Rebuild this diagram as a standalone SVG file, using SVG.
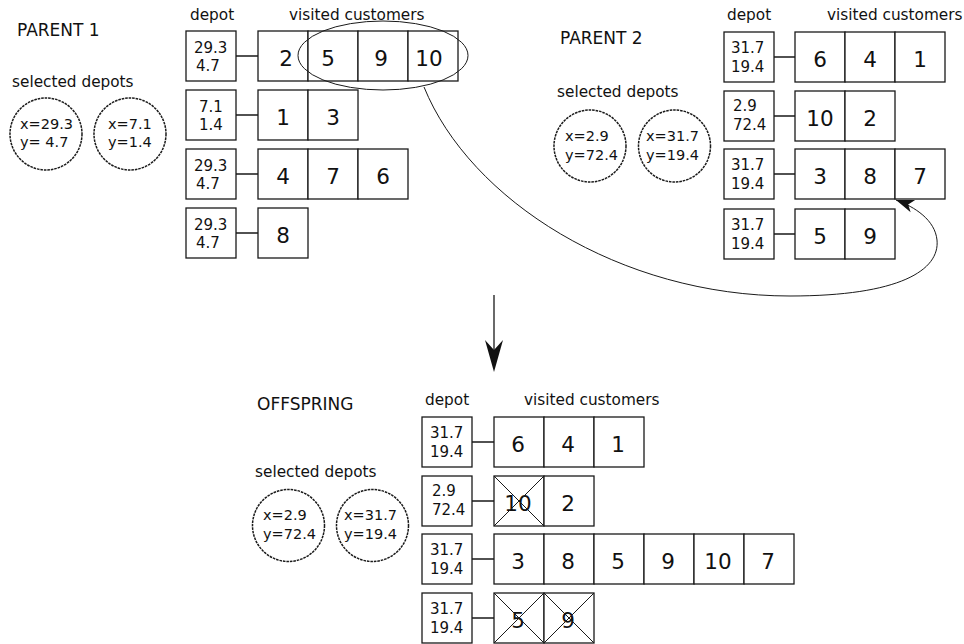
<svg xmlns="http://www.w3.org/2000/svg" width="964" height="644" viewBox="0 0 964 644">
<style>
text{font-family:"DejaVu Sans","Liberation Sans",sans-serif;fill:#111}
.box{fill:#fff;stroke:#1a1a1a;stroke-width:1.3}
.ln{stroke:#1a1a1a;stroke-width:1.3;fill:none}
.thin{stroke:#1a1a1a;stroke-width:1;fill:none}
.dep{font-size:15px}
.num{font-size:21.5px;text-anchor:middle}
.lab{font-size:15.3px}
.ttl{font-size:17px}
.circ{fill:#fff;stroke:#1a1a1a;stroke-width:1.5;stroke-dasharray:2.6 0.9}
.ctx{font-size:14.5px}
</style>
<defs>
<marker id="ah" markerUnits="userSpaceOnUse" markerWidth="24" markerHeight="16" viewBox="-20 -8 24 16" refX="0" refY="0" orient="auto">
<path d="M0,0 L-18,-6.5 L-13,0 L-18,6.5 Z" fill="#111"/>
</marker>
</defs>

<!-- PARENT 1 -->
<g id="parent1-labels">
<text class="ttl" x="17" y="36">PARENT 1</text>
<text class="lab" x="12" y="87">selected depots</text>
<text class="lab" x="190" y="20">depot</text>
<text class="lab" x="289" y="20">visited customers</text>
</g>
<g id="p1-depots">
<circle class="circ" cx="46" cy="134" r="36"/>
<text class="ctx" x="20" y="129">x=29.3</text>
<text class="ctx" x="20" y="147">y= 4.7</text>
<circle class="circ" cx="130" cy="134" r="36"/>
<text class="ctx" x="108" y="129">x=7.1</text>
<text class="ctx" x="108" y="147">y=1.4</text>
</g>
<g id="p1-row1">
<rect class="box" x="186" y="31" width="50" height="50"/>
<text class="dep" x="194" y="53">29.3</text><text class="dep" x="196" y="71">4.7</text>
<rect class="box" x="258" y="31" width="50" height="50"/><text class="num" x="286" y="66">2</text>
<rect class="box" x="308" y="31" width="50" height="50"/><text class="num" x="328" y="66">5</text>
<rect class="box" x="358" y="31" width="50" height="50"/><text class="num" x="381" y="66">9</text>
<rect class="box" x="408" y="31" width="50" height="50"/><text class="num" x="429" y="66">10</text>
</g>
<g id="p1-row2">
<rect class="box" x="186" y="90" width="50" height="50"/>
<text class="dep" x="199" y="112">7.1</text><text class="dep" x="199" y="130">1.4</text>
<rect class="box" x="258" y="90" width="50" height="50"/><text class="num" x="283" y="125">1</text>
<rect class="box" x="308" y="90" width="50" height="50"/><text class="num" x="333" y="125">3</text>
</g>
<g id="p1-row3">
<rect class="box" x="186" y="149" width="50" height="50"/>
<text class="dep" x="194" y="171">29.3</text><text class="dep" x="196" y="189">4.7</text>
<rect class="box" x="258" y="149" width="50" height="50"/><text class="num" x="283" y="184">4</text>
<rect class="box" x="308" y="149" width="50" height="50"/><text class="num" x="333" y="184">7</text>
<rect class="box" x="358" y="149" width="50" height="50"/><text class="num" x="383" y="184">6</text>
</g>
<g id="p1-row4">
<rect class="box" x="186" y="208" width="50" height="50"/>
<text class="dep" x="194" y="230">29.3</text><text class="dep" x="196" y="248">4.7</text>
<rect class="box" x="258" y="208" width="50" height="50"/><text class="num" x="283" y="243">8</text>
</g>

<!-- PARENT 2 -->
<g id="parent2-labels">
<text class="ttl" x="560" y="44">PARENT 2</text>
<text class="lab" x="557" y="97">selected depots</text>
<text class="lab" x="727" y="20">depot</text>
<text class="lab" x="827" y="20">visited customers</text>
</g>
<g id="p2-depots">
<circle class="circ" cx="590" cy="146" r="36"/>
<text class="ctx" x="565" y="141">x=2.9</text>
<text class="ctx" x="565" y="160">y=72.4</text>
<circle class="circ" cx="674.5" cy="146" r="36"/>
<text class="ctx" x="646" y="141">x=31.7</text>
<text class="ctx" x="646" y="160">y=19.4</text>
</g>
<g id="p2-row1">
<rect class="box" x="724" y="32" width="50" height="50"/>
<text class="dep" x="731" y="53">31.7</text><text class="dep" x="731" y="72">19.4</text>
<rect class="box" x="795" y="32" width="50" height="50"/><text class="num" x="820" y="67">6</text>
<rect class="box" x="845" y="32" width="50" height="50"/><text class="num" x="870" y="67">4</text>
<rect class="box" x="895" y="32" width="50" height="50"/><text class="num" x="920" y="67">1</text>
</g>
<g id="p2-row2">
<rect class="box" x="724" y="91" width="50" height="50"/>
<text class="dep" x="733" y="111">2.9</text><text class="dep" x="733" y="130">72.4</text>
<rect class="box" x="795" y="91" width="50" height="50"/><text class="num" x="820" y="126">10</text>
<rect class="box" x="845" y="91" width="50" height="50"/><text class="num" x="870" y="126">2</text>
</g>
<g id="p2-row3">
<rect class="box" x="724" y="149" width="50" height="50"/>
<text class="dep" x="731" y="170">31.7</text><text class="dep" x="731" y="189">19.4</text>
<rect class="box" x="795" y="149" width="50" height="50"/><text class="num" x="820" y="184">3</text>
<rect class="box" x="845" y="149" width="50" height="50"/><text class="num" x="870" y="184">8</text>
<rect class="box" x="895" y="149" width="50" height="50"/><text class="num" x="920" y="184">7</text>
</g>
<g id="p2-row4">
<rect class="box" x="724" y="209" width="50" height="50"/>
<text class="dep" x="731" y="230">31.7</text><text class="dep" x="731" y="249">19.4</text>
<rect class="box" x="795" y="209" width="50" height="50"/><text class="num" x="820" y="244">5</text>
<rect class="box" x="845" y="209" width="50" height="50"/><text class="num" x="870" y="244">9</text>
</g>

<!-- OFFSPRING -->
<g id="offspring-labels">
<text class="ttl" x="257" y="410">OFFSPRING</text>
<text class="lab" x="255" y="477">selected depots</text>
<text class="lab" x="425" y="405">depot</text>
<text class="lab" x="524" y="405">visited customers</text>
</g>
<g id="off-depots">
<circle class="circ" cx="288.5" cy="525.5" r="36"/>
<text class="ctx" x="263" y="520">x=2.9</text>
<text class="ctx" x="263" y="539">y=72.4</text>
<circle class="circ" cx="372.5" cy="525.5" r="36"/>
<text class="ctx" x="344" y="520">x=31.7</text>
<text class="ctx" x="344" y="539">y=19.4</text>
</g>
<g id="off-row1">
<rect class="box" x="422" y="417" width="50" height="50"/>
<text class="dep" x="430" y="438">31.7</text><text class="dep" x="430" y="457">19.4</text>
<rect class="box" x="494" y="417" width="50" height="50"/><text class="num" x="518" y="452">6</text>
<rect class="box" x="544" y="417" width="50" height="50"/><text class="num" x="568" y="452">4</text>
<rect class="box" x="594" y="417" width="50" height="50"/><text class="num" x="618" y="452">1</text>
</g>
<g id="off-row2">
<rect class="box" x="422" y="476" width="50" height="50"/>
<text class="dep" x="432" y="496">2.9</text><text class="dep" x="432" y="515">72.4</text>
<rect class="box" x="494" y="476" width="50" height="50"/><text class="num" x="518" y="511">10</text>
<path class="thin" d="M494,476 L544,526 M544,476 L494,526"/>
<rect class="box" x="544" y="476" width="50" height="50"/><text class="num" x="568" y="511">2</text>
</g>
<g id="off-row3">
<rect class="box" x="422" y="534" width="50" height="50"/>
<text class="dep" x="430" y="555">31.7</text><text class="dep" x="430" y="574">19.4</text>
<rect class="box" x="494" y="534" width="50" height="50"/><text class="num" x="518" y="569">3</text>
<rect class="box" x="544" y="534" width="50" height="50"/><text class="num" x="568" y="569">8</text>
<rect class="box" x="594" y="534" width="50" height="50"/><text class="num" x="618" y="569">5</text>
<rect class="box" x="644" y="534" width="50" height="50"/><text class="num" x="668" y="569">9</text>
<rect class="box" x="694" y="534" width="50" height="50"/><text class="num" x="718" y="569">10</text>
<rect class="box" x="744" y="534" width="50" height="50"/><text class="num" x="768" y="569">7</text>
</g>
<g id="off-row4">
<rect class="box" x="422" y="593" width="50" height="50"/>
<text class="dep" x="430" y="614">31.7</text><text class="dep" x="430" y="633">19.4</text>
<rect class="box" x="494" y="593" width="50" height="50"/><text class="num" x="518" y="628">5</text>
<path class="thin" d="M494,593 L544,643 M544,593 L494,643"/>
<rect class="box" x="544" y="593" width="50" height="50"/><text class="num" x="568" y="628">9</text>
<path class="thin" d="M544,593 L594,643 M594,593 L544,643"/>
</g>

<!-- connectors -->
<g id="connectors">
<path class="ln" d="M236,56 H258 M236,115 H258 M236,174 H258 M236,233 H258"/>
<path class="ln" d="M774,57 H795 M774,116 H795 M774,174 H795 M774,234 H795"/>
<path class="ln" d="M472,442 H494 M472,501 H494 M472,559 H494 M472,618 H494"/>
<ellipse class="thin" cx="383" cy="55.5" rx="85" ry="34.5" stroke-width="1.2"/>
<path class="thin" stroke-width="1.2" d="M424,87 C470,200 620,296 790,296 C900,296 940,270 937,240 C935,220 915,207 896,200" marker-end="url(#ah)"/>
<path class="ln" stroke-width="1.5" d="M494,295 V350"/>
<path d="M494,372 L485,340 L494,350 L503,340 Z" fill="#111"/>
</g>
</svg>
